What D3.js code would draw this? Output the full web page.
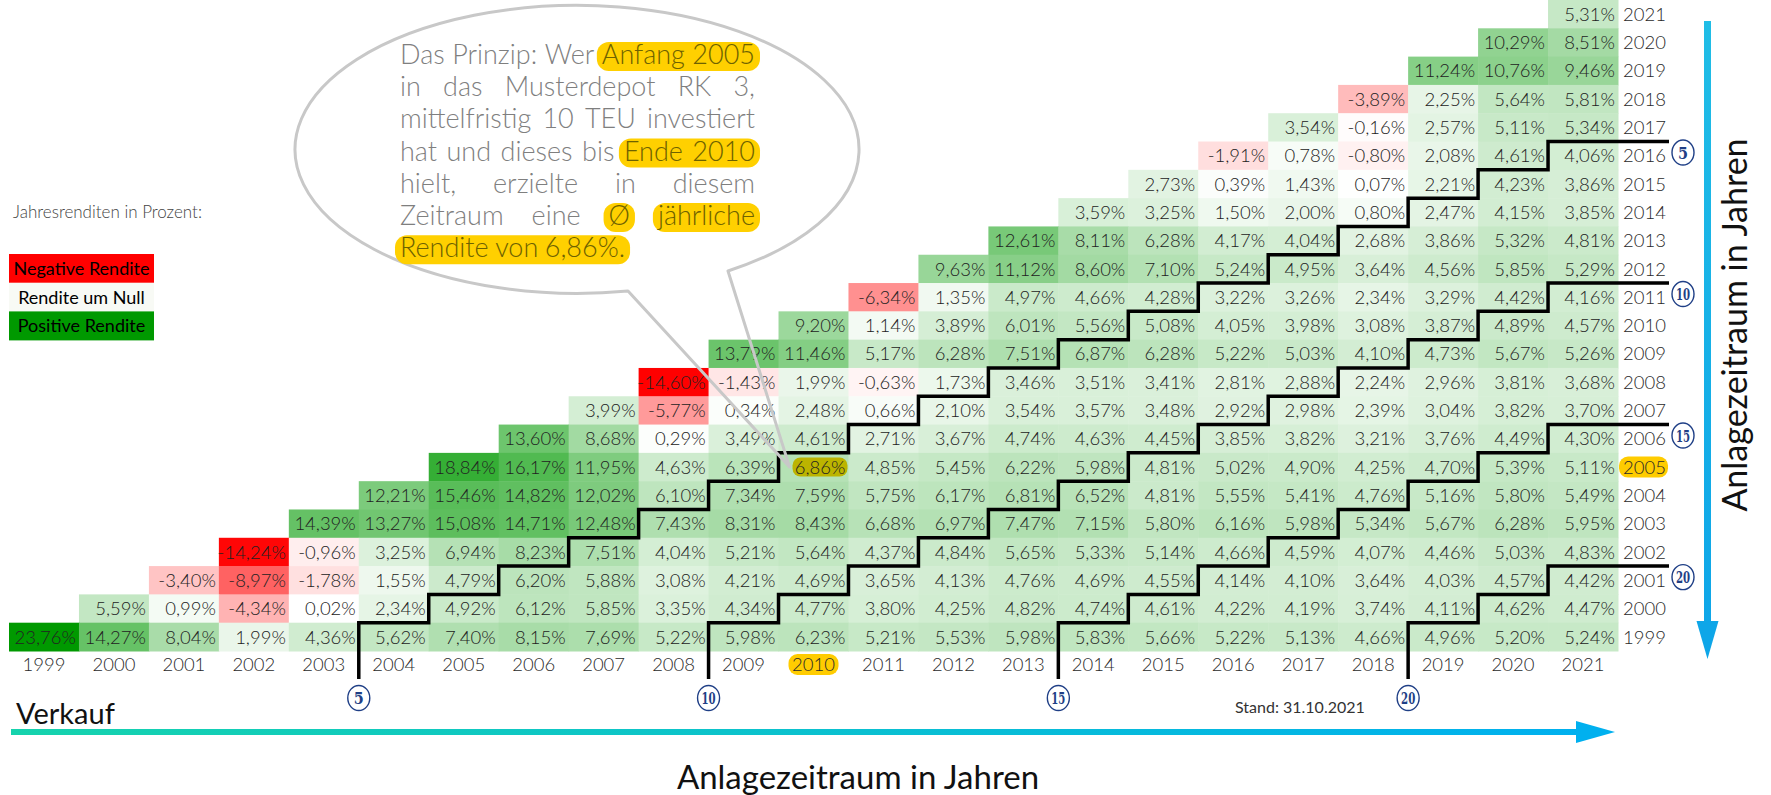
<!DOCTYPE html>
<meta charset="utf-8">
<style>
body {margin: 0; background: #fff;}
text {font-family: Lato, "Open Sans", sans-serif;}
.cell-label {font-size: 18.5px; font-weight: 300; fill: #222;}
.axis-label {font-size: 18.5px; font-weight: 300; fill: #2a2a2a;}
.ring {font-family: "DejaVu Serif", serif; font-size: 17px; font-weight: bold; fill: #1f3f86;}
</style>
<body>
<script src="https://d3js.org/d3.v7.min.js"></script>
<div id="chart"></div>
<script>
// sell years (columns) and buy years (rows)
var sellYears = [1999, 2000, 2001, 2002, 2003, 2004, 2005, 2006, 2007, 2008, 2009, 2010,
                 2011, 2012, 2013, 2014, 2015, 2016, 2017, 2018, 2019, 2020, 2021];
var buyYears = sellYears.slice().reverse();

// annualised return in %, from start of buy year to end of sell year (sell = buy .. 2021)
var buy1999 = [23.76, 14.27, 8.04, 1.99, 4.36, 5.62, 7.40, 8.15, 7.69, 5.22, 5.98, 6.23, 5.21, 5.53, 5.98, 5.83, 5.66, 5.22, 5.13, 4.66, 4.96, 5.20, 5.24];
var buy2000 = [5.59, 0.99, -4.34, 0.02, 2.34, 4.92, 6.12, 5.85, 3.35, 4.34, 4.77, 3.80, 4.25, 4.82, 4.74, 4.61, 4.22, 4.19, 3.74, 4.11, 4.62, 4.47];
var buy2001 = [-3.40, -8.97, -1.78, 1.55, 4.79, 6.20, 5.88, 3.08, 4.21, 4.69, 3.65, 4.13, 4.76, 4.69, 4.55, 4.14, 4.10, 3.64, 4.03, 4.57, 4.42];
var buy2002 = [-14.24, -0.96, 3.25, 6.94, 8.23, 7.51, 4.04, 5.21, 5.64, 4.37, 4.84, 5.65, 5.33, 5.14, 4.66, 4.59, 4.07, 4.46, 5.03, 4.83];
var buy2003 = [14.39, 13.27, 15.08, 14.71, 12.48, 7.43, 8.31, 8.43, 6.68, 6.97, 7.47, 7.15, 5.80, 6.16, 5.98, 5.34, 5.67, 6.28, 5.95];
var buy2004 = [12.21, 15.46, 14.82, 12.02, 6.10, 7.34, 7.59, 5.75, 6.17, 6.81, 6.52, 4.81, 5.55, 5.41, 4.76, 5.16, 5.80, 5.49];
var buy2005 = [18.84, 16.17, 11.95, 4.63, 6.39, 6.86, 4.85, 5.45, 6.22, 5.98, 4.81, 5.02, 4.90, 4.25, 4.70, 5.39, 5.11];
var buy2006 = [13.60, 8.68, 0.29, 3.49, 4.61, 2.71, 3.67, 4.74, 4.63, 4.45, 3.85, 3.82, 3.21, 3.76, 4.49, 4.30];
var buy2007 = [3.99, -5.77, 0.34, 2.48, 0.66, 2.10, 3.54, 3.57, 3.48, 2.92, 2.98, 2.39, 3.04, 3.82, 3.70];
var buy2008 = [-14.60, -1.43, 1.99, -0.63, 1.73, 3.46, 3.51, 3.41, 2.81, 2.88, 2.24, 2.96, 3.81, 3.68];
var buy2009 = [13.79, 11.46, 5.17, 6.28, 7.51, 6.87, 6.28, 5.22, 5.03, 4.10, 4.73, 5.67, 5.26];
var buy2010 = [9.20, 1.14, 3.89, 6.01, 5.56, 5.08, 4.05, 3.98, 3.08, 3.87, 4.89, 4.57];
var buy2011 = [-6.34, 1.35, 4.97, 4.66, 4.28, 3.22, 3.26, 2.34, 3.29, 4.42, 4.16];
var buy2012 = [9.63, 11.12, 8.60, 7.10, 5.24, 4.95, 3.64, 4.56, 5.85, 5.29];
var buy2013 = [12.61, 8.11, 6.28, 4.17, 4.04, 2.68, 3.86, 5.32, 4.81];
var buy2014 = [3.59, 3.25, 1.50, 2.00, 0.80, 2.47, 4.15, 3.85];
var buy2015 = [2.73, 0.39, 1.43, 0.07, 2.21, 4.23, 3.86];
var buy2016 = [-1.91, 0.78, -0.80, 2.08, 4.61, 4.06];
var buy2017 = [3.54, -0.16, 2.57, 5.11, 5.34];
var buy2018 = [-3.89, 2.25, 5.64, 5.81];
var buy2019 = [11.24, 10.76, 9.46];
var buy2020 = [10.29, 8.51];
var buy2021 = [5.31];

var holdPeriods = [5, 10, 15, 20];
var legendLabels = ["Negative Rendite", "Rendite um Null", "Positive Rendite"];
var bubbleLines = [
  "Das Prinzip: Wer [Anfang 2005]",
  "in das Musterdepot RK 3,",
  "mittelfristig 10 TEU investiert",
  "hat und dieses bis [Ende 2010]",
  "hielt, erzielte in diesem",
  "Zeitraum eine [Ø] [jährliche]",
  "[Rendite von 6,86%.]"
];
var exampleBuy = 2005, exampleSell = 2010;

// build cell table
var rowsByBuy = {1999: buy1999, 2000: buy2000, 2001: buy2001, 2002: buy2002, 2003: buy2003,
  2004: buy2004, 2005: buy2005, 2006: buy2006, 2007: buy2007, 2008: buy2008, 2009: buy2009,
  2010: buy2010, 2011: buy2011, 2012: buy2012, 2013: buy2013, 2014: buy2014, 2015: buy2015,
  2016: buy2016, 2017: buy2017, 2018: buy2018, 2019: buy2019, 2020: buy2020, 2021: buy2021};
var cells = [];
buyYears.forEach(function(b) {
  rowsByBuy[b].forEach(function(v, i) { cells.push({buy: b, sell: b + i, value: v}); });
});

var width = 1771, height = 795;
var svg = d3.select("#chart").append("svg")
    .attr("width", width)
    .attr("height", height);

var x = d3.scaleBand().domain(sellYears).range([9, 1618]);
var y = d3.scaleBand().domain(buyYears).range([0, 651]);
var minV = d3.min(cells, function(d) { return d.value; }),
    maxV = d3.max(cells, function(d) { return d.value; });
var color = d3.scaleLinear()
    .domain([minV, 0, maxV])
    .range(["#ff0000", "#ffffff", "#009900"]);

var de = d3.formatLocale({decimal: ",", thousands: ".", grouping: [3], currency: ["", " €"], minus: "-"});
var fmt = function(v) { return de.format(".2f")(v) + "%"; };

// defs: arrow gradients
var defs = svg.append("defs");
var gH = defs.append("linearGradient").attr("id", "gH");
gH.append("stop").attr("offset", "0%").attr("stop-color", "#16d3ad");
gH.append("stop").attr("offset", "100%").attr("stop-color", "#00b0ef");
var gV = defs.append("linearGradient").attr("id", "gV").attr("x1", 0).attr("x2", 0).attr("y1", 0).attr("y2", 1);
gV.append("stop").attr("offset", "0%").attr("stop-color", "#20bde6");
gV.append("stop").attr("offset", "100%").attr("stop-color", "#0ea6e8");

// cells
svg.append("g").selectAll("rect")
  .data(cells).enter().append("rect")
    .attr("x", function(d) { return x(d.sell); })
    .attr("y", function(d) { return y(d.buy); })
    .attr("width", x.bandwidth() + 0.5)
    .attr("height", y.bandwidth() + 0.5)
    .attr("fill", function(d) { return color(d.value); });

// highlight of the example cell
var hl = cells.filter(function(d) { return d.buy == exampleBuy && d.sell == exampleSell; })[0];
svg.append("rect")
  .attr("x", x(hl.sell) + 14).attr("y", y(hl.buy) + y.bandwidth() / 2 - 9.5)
  .attr("width", x.bandwidth() - 15).attr("height", 19).attr("rx", 8)
  .attr("fill", "#bcb400");

svg.append("g").selectAll("text")
  .data(cells).enter().append("text")
    .attr("class", "cell-label")
    .attr("x", function(d) { return x(d.sell) + x.bandwidth() - 3; })
    .attr("y", function(d) { return y(d.buy) + y.bandwidth() / 2; })
    .attr("dy", "0.36em")
    .attr("text-anchor", "end")
    .text(function(d) { return fmt(d.value); });

// axis labels: sell years along the bottom, buy years on the right
svg.append("rect")
  .attr("x", x(exampleSell) + x.bandwidth() / 2 - 25).attr("y", 654)
  .attr("width", 50).attr("height", 21).attr("rx", 9).attr("fill", "#ffcc00");
svg.append("rect")
  .attr("x", 1619).attr("y", y(exampleBuy) + y.bandwidth() / 2 - 10.5)
  .attr("width", 49).attr("height", 21).attr("rx", 9).attr("fill", "#ffcc00");

svg.append("g").selectAll("text")
  .data(sellYears).enter().append("text")
    .attr("class", "axis-label")
    .attr("x", function(d) { return x(d) + x.bandwidth() / 2; })
    .attr("y", 671)
    .attr("text-anchor", "middle")
    .text(function(d) { return d; });

svg.append("g").selectAll("text")
  .data(buyYears).enter().append("text")
    .attr("class", "axis-label")
    .attr("x", 1623)
    .attr("y", function(d) { return y(d) + y.bandwidth() / 2; })
    .attr("dy", "0.36em")
    .text(function(d) { return d; });

// holding period staircases
var stairs = svg.append("g");
holdPeriods.forEach(function(n) {
  var top = 2021 - n;
  var p = d3.path();
  p.moveTo(1669, y(top));
  p.lineTo(x(top + n - 1) + x.bandwidth(), y(top));
  for (var b = top; b >= 1999; b--) {
    var xr = x(b + n - 1) + x.bandwidth();
    p.lineTo(xr, b > 1999 ? y(b) + y.bandwidth() : 679);
    if (b > 1999) p.lineTo(x(b + n - 2) + x.bandwidth(), y(b) + y.bandwidth());
  }
  stairs.append("path").attr("d", p.toString())
    .attr("fill", "none").attr("stroke", "#000").attr("stroke-width", 3.5);

  [[x(1999 + n - 1) + x.bandwidth(), 698], [1683, y(top) + 11]].forEach(function(c) {
    stairs.append("ellipse").attr("cx", c[0]).attr("cy", c[1]).attr("rx", 11).attr("ry", 12.5)
      .attr("fill", "#fff").attr("stroke", "#1f3f86").attr("stroke-width", 1.4);
    stairs.append("text").attr("class", "ring")
      .attr("dy", "0.36em").attr("text-anchor", "middle")
      .attr("transform", "translate(" + c[0] + "," + c[1] + ") scale(" + (n < 10 ? 0.85 : 0.6) + ",1)")
      .text(n);
  });
});

// arrows
svg.append("rect").attr("x", 11).attr("y", 729).attr("width", 1570).attr("height", 6).attr("fill", "url(#gH)");
svg.append("path").attr("d", "M1576,721 L1615,732 L1576,743 Z").attr("fill", "#00b0ef");
svg.append("rect").attr("x", 1704).attr("y", 21).attr("width", 7).attr("height", 605).attr("fill", "url(#gV)");
svg.append("path").attr("d", "M1696.5,621 L1707.5,659 L1718.5,621 Z").attr("fill", "#0ea6e8");

// titles
svg.append("text").attr("x", 16).attr("y", 724).style("font-size", "29px").style("fill", "#111").text("Verkauf");
svg.append("text").attr("x", 858).attr("y", 789).attr("text-anchor", "middle")
  .style("font-size", "33px").style("fill", "#111").text("Anlagezeitraum in Jahren");
svg.append("text").attr("transform", "translate(1747,325) rotate(-90)").attr("text-anchor", "middle")
  .style("font-size", "34px").style("fill", "#111").text("Anlagezeitraum in Jahren");
svg.append("text").attr("x", 1235).attr("y", 713).style("font-size", "16px").style("fill", "#333")
  .text("Stand: 31.10.2021");

// legend
svg.append("text").attr("x", 13).attr("y", 218).style("font-size", "17px").style("font-weight", 300)
  .style("fill", "#444").text("Jahresrenditen in Prozent:");
var legendColors = [color(minV), "#f8faf5", color(maxV)];
var lg = svg.append("g").selectAll("g").data(legendLabels).enter().append("g");
lg.append("rect").attr("x", 9).attr("y", function(d, i) { return 254 + i * 28.7; })
  .attr("width", 145).attr("height", 29).attr("fill", function(d, i) { return legendColors[i]; });
lg.append("text").attr("x", 81.5).attr("y", function(d, i) { return 254 + i * 28.7 + 14.5; })
  .attr("dy", "0.36em").attr("text-anchor", "middle").style("font-size", "18px").style("fill", "#000")
  .text(function(d) { return d; });

// speech bubble
var tip = [x(exampleSell) + 11, y(exampleBuy) + 14];
svg.append("path")
  .attr("d", "M728,271 A282,144 0 1 0 628,291 L" + tip[0] + "," + tip[1] + " Z")
  .attr("fill", "none").attr("stroke", "#c8c8c8").attr("stroke-width", 3).attr("stroke-linejoin", "round");

var bx = 400, bw = 355;
var hlG = svg.append("g"), txG = svg.append("g");
bubbleLines.forEach(function(line, li) {
  var words = [], grp = -1, gid = 0;
  line.split(" ").forEach(function(w) {
    if (w.charAt(0) == "[") { grp = gid++; w = w.slice(1); }
    var end = w.charAt(w.length - 1) == "]";
    if (end) w = w.slice(0, -1);
    words.push({w: w, g: grp});
    if (end) grp = -1;
  });
  var by = 64 + li * 32.2;
  var nodes = words.map(function(d) {
    return txG.append("text").attr("y", by).style("font-size", "27px").style("font-weight", 300)
      .style("fill", d.g >= 0 ? "#6e6200" : "#7f7f7f").text(d.w);
  });
  var ws = nodes.map(function(n) { return n.node().getComputedTextLength(); });
  var last = li == bubbleLines.length - 1;
  var gap = last ? 6.5 : (bw - d3.sum(ws)) / (words.length - 1);
  var cx = bx;
  words.forEach(function(d, i) { d.x0 = cx; d.x1 = cx + ws[i]; nodes[i].attr("x", cx); cx += ws[i] + gap; });
  d3.groups(words.filter(function(d) { return d.g >= 0; }), function(d) { return d.g; }).forEach(function(g) {
    var a = g[1][0].x0, b = g[1][g[1].length - 1].x1;
    hlG.append("rect").attr("x", a - 5).attr("y", by - 22).attr("width", b - a + 10).attr("height", 29)
      .attr("rx", 12).attr("fill", "#ffd000");
  });
});
</script>
</body>
